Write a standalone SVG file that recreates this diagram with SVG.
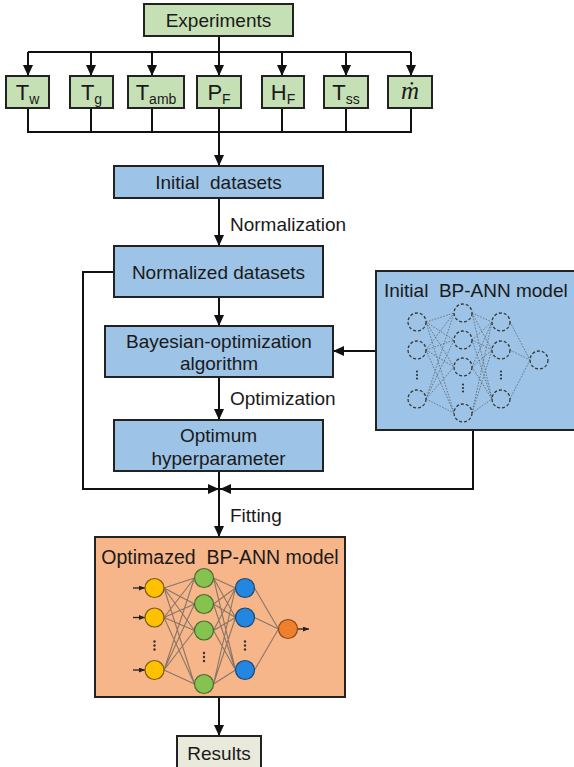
<svg xmlns="http://www.w3.org/2000/svg" width="574" height="767" viewBox="0 0 574 767">
  <defs>
    <marker id="arrow" markerUnits="userSpaceOnUse" markerWidth="11" markerHeight="10" refX="11" refY="5" orient="auto">
      <path d="M0,0 L11,5 L0,10 z" fill="#111"/>
    </marker>
    <marker id="arrow-small" markerUnits="userSpaceOnUse" markerWidth="6" markerHeight="5" refX="6" refY="2.5" orient="auto">
      <path d="M0,0 L6,2.5 L0,5 z" fill="#222"/>
    </marker>
    <style>
      .box { stroke: #222; stroke-width: 2; }
      .green { fill: #C5E0B4; }
      .blue { fill: #9DC3E6; }
      .orange { fill: #F6B68A; }
      .grey { fill: #E9E9DC; }
      .t { font-family: "Liberation Sans", Arial, sans-serif; font-size: 19px; fill: #1a1a1a; white-space: pre; }
      .mid { text-anchor: middle; }
      .sym { font-family: "Liberation Sans", Arial, sans-serif; font-size: 22px; fill: #1a1a1a; text-anchor: middle; }
      .sub { font-size: 14px; }
      .wire { fill: none; stroke: #111; stroke-width: 2; }
      .dash-node { fill: none; stroke: #3a3a3a; stroke-width: 1.3; stroke-dasharray: 3 2; }
      .dot-link { fill: none; stroke: #5d6670; stroke-width: 0.8; stroke-dasharray: 1.6 1.4; }
      .link { fill: none; stroke: #8a7566; stroke-width: 1.1; }
      .io { fill: none; stroke: #222; stroke-width: 1.3; }
      .ell { fill: #333; }
    </style>
  </defs>

  <!-- connectors -->
  <g id="connectors">
    <!-- Experiments fan-out to the seven variables -->
    <path class="wire" d="M219,36 V52 M28,52 H411"/>
    <path class="wire" marker-end="url(#arrow)" d="M28,52 V76"/>
    <path class="wire" marker-end="url(#arrow)" d="M91,52 V76"/>
    <path class="wire" marker-end="url(#arrow)" d="M152,52 V76"/>
    <path class="wire" marker-end="url(#arrow)" d="M219,52 V76"/>
    <path class="wire" marker-end="url(#arrow)" d="M282,52 V76"/>
    <path class="wire" marker-end="url(#arrow)" d="M346,52 V76"/>
    <path class="wire" marker-end="url(#arrow)" d="M411,52 V76"/>
    <!-- variables collected into datasets -->
    <path class="wire" d="M28,108 V132 H411 V108 M91,108 V132 M152,108 V132 M219,108 V132 M282,108 V132 M346,108 V132"/>
    <path class="wire" marker-end="url(#arrow)" d="M219,132 V166"/>
    <path class="wire" marker-end="url(#arrow)" d="M219,198 V246"/>
    <path class="wire" marker-end="url(#arrow)" d="M219,297 V326"/>
    <path class="wire" marker-end="url(#arrow)" d="M376,351 H333"/>
    <path class="wire" marker-end="url(#arrow)" d="M219,377 V420"/>
    <!-- side branches into the fitting junction -->
    <path class="wire" marker-end="url(#arrow)" d="M114,272 H83 V489 H219"/>
    <path class="wire" marker-end="url(#arrow)" d="M473,430 V489 H220"/>
    <path class="wire" marker-end="url(#arrow)" d="M219,471 V537"/>
    <path class="wire" marker-end="url(#arrow)" d="M219,697 V736"/>
    <text class="t" x="230" y="231">Normalization</text>
    <text class="t" x="230" y="405">Optimization</text>
    <text class="t" x="230" y="522">Fitting</text>
  </g>

  <g id="experiments">
    <rect class="box green" x="144" y="4" width="149" height="32"/>
    <text class="t mid" x="218.5" y="27">Experiments</text>
  </g>

  <g id="var-tw">
    <rect class="box green" x="6" y="76" width="43" height="32"/>
    <text class="sym" x="27.5" y="100">T<tspan class="sub" dy="4">w</tspan></text>
  </g>
  <g id="var-tg">
    <rect class="box green" x="70" y="76" width="43" height="32"/>
    <text class="sym" x="91.5" y="100">T<tspan class="sub" dy="4">g</tspan></text>
  </g>
  <g id="var-tamb">
    <rect class="box green" x="128" y="76" width="56" height="32"/>
    <text class="sym" x="156" y="100">T<tspan class="sub" dy="4">amb</tspan></text>
  </g>
  <g id="var-pf">
    <rect class="box green" x="197" y="76" width="44" height="32"/>
    <text class="sym" x="219" y="100">P<tspan class="sub" dy="4">F</tspan></text>
  </g>
  <g id="var-hf">
    <rect class="box green" x="262" y="76" width="42" height="32"/>
    <text class="sym" x="283" y="100">H<tspan class="sub" dy="4">F</tspan></text>
  </g>
  <g id="var-tss">
    <rect class="box green" x="324" y="76" width="44" height="32"/>
    <text class="sym" x="346" y="100">T<tspan class="sub" dy="4">ss</tspan></text>
  </g>
  <g id="var-mdot">
    <rect class="box green" x="388" y="76" width="44" height="32"/>
    <text x="410" y="99" text-anchor="middle" font-family="'Liberation Serif', 'Times New Roman', serif" font-style="italic" font-size="25" fill="#1a1a1a">ṁ</text>
  </g>

  <g id="initial-datasets">
    <rect class="box blue" x="114" y="166" width="209" height="32"/>
    <text class="t mid" x="218.5" y="189" xml:space="preserve">Initial  datasets</text>
  </g>

  <g id="normalized-datasets">
    <rect class="box blue" x="114" y="246" width="209" height="51"/>
    <text class="t mid" x="218.5" y="278.5">Normalized datasets</text>
  </g>

  <g id="bayesian-optimization">
    <rect class="box blue" x="105" y="326" width="228" height="51"/>
    <text class="t mid" x="219" y="347.5">Bayesian-optimization</text>
    <text class="t mid" x="219" y="370">algorithm</text>
  </g>

  <g id="optimum-hyperparameter">
    <rect class="box blue" x="114" y="420" width="209" height="51"/>
    <text class="t mid" x="218.5" y="441.5">Optimum</text>
    <text class="t mid" x="218.5" y="464.5">hyperparameter</text>
  </g>

  <g id="initial-bp-ann">
    <rect class="box blue" x="376" y="271" width="210" height="159"/>
    <text class="t" x="384" y="297" xml:space="preserve">Initial  BP-ANN model</text>
    <path class="dot-link" d="
      M426,322 L454,313 M426,322 L454,340 M426,322 L454,367 M426,322 L454,413
      M426,350 L454,313 M426,350 L454,340 M426,350 L454,367 M426,350 L454,413
      M426,399 L454,313 M426,399 L454,340 M426,399 L454,367 M426,399 L454,413
      M472,313 L492,322 M472,313 L492,350 M472,313 L492,399
      M472,340 L492,322 M472,340 L492,350 M472,340 L492,399
      M472,367 L492,322 M472,367 L492,350 M472,367 L492,399
      M472,413 L492,322 M472,413 L492,350 M472,413 L492,399
      M510,322 L530,360 M510,350 L530,360 M510,399 L530,360"/>
    <circle class="dash-node" cx="417" cy="322" r="9"/>
    <circle class="dash-node" cx="417" cy="350" r="9"/>
    <circle class="dash-node" cx="417" cy="399" r="9"/>
    <circle class="dash-node" cx="463" cy="313" r="9"/>
    <circle class="dash-node" cx="463" cy="340" r="9"/>
    <circle class="dash-node" cx="463" cy="367" r="9"/>
    <circle class="dash-node" cx="463" cy="413" r="9"/>
    <circle class="dash-node" cx="501" cy="322" r="9"/>
    <circle class="dash-node" cx="501" cy="350" r="9"/>
    <circle class="dash-node" cx="501" cy="399" r="9"/>
    <circle class="dash-node" cx="539" cy="360" r="9"/>
    <g class="ell">
      <circle cx="417" cy="371.5" r="1.1"/><circle cx="417" cy="375" r="1.1"/><circle cx="417" cy="378.5" r="1.1"/>
      <circle cx="463" cy="384.5" r="1.1"/><circle cx="463" cy="388" r="1.1"/><circle cx="463" cy="391.5" r="1.1"/>
      <circle cx="501" cy="371.5" r="1.1"/><circle cx="501" cy="375" r="1.1"/><circle cx="501" cy="378.5" r="1.1"/>
    </g>
  </g>

  <g id="optimized-bp-ann">
    <rect class="box orange" x="95" y="537" width="250" height="160"/>
    <text class="t mid" x="220" y="563.5" style="font-size:19.5px" xml:space="preserve">Optimazed  BP-ANN model</text>
    <path class="link" d="
      M164,588 L194.5,578 M164,588 L194.5,604 M164,588 L194.5,630.5 M164,588 L194.5,684
      M164,617.5 L194.5,578 M164,617.5 L194.5,604 M164,617.5 L194.5,630.5 M164,617.5 L194.5,684
      M164,670 L194.5,578 M164,670 L194.5,604 M164,670 L194.5,630.5 M164,670 L194.5,684
      M213.5,578 L235.5,588 M213.5,578 L235.5,617.5 M213.5,578 L235.5,670
      M213.5,604 L235.5,588 M213.5,604 L235.5,617.5 M213.5,604 L235.5,670
      M213.5,630.5 L235.5,588 M213.5,630.5 L235.5,617.5 M213.5,630.5 L235.5,670
      M213.5,684 L235.5,588 M213.5,684 L235.5,617.5 M213.5,684 L235.5,670
      M254.5,588 L278.5,629 M254.5,617.5 L278.5,629 M254.5,670 L278.5,629"/>
    <!-- input and output arrows -->
    <path class="io" marker-end="url(#arrow-small)" d="M133,588 H145"/>
    <path class="io" marker-end="url(#arrow-small)" d="M133,617.5 H145"/>
    <path class="io" marker-end="url(#arrow-small)" d="M133,670 H145"/>
    <path class="io" marker-end="url(#arrow-small)" d="M297.5,629 H309"/>
    <g stroke-width="1.2">
      <circle cx="154.5" cy="588" r="9.5" fill="#FFC000" stroke="#7a5c10"/>
      <circle cx="154.5" cy="617.5" r="9.5" fill="#FFC000" stroke="#7a5c10"/>
      <circle cx="154.5" cy="670" r="9.5" fill="#FFC000" stroke="#7a5c10"/>
      <circle cx="204" cy="578" r="9.5" fill="#86C24F" stroke="#4a6b2c"/>
      <circle cx="204" cy="604" r="9.5" fill="#86C24F" stroke="#4a6b2c"/>
      <circle cx="204" cy="630.5" r="9.5" fill="#86C24F" stroke="#4a6b2c"/>
      <circle cx="204" cy="684" r="9.5" fill="#86C24F" stroke="#4a6b2c"/>
      <circle cx="245" cy="588" r="9.5" fill="#2386E0" stroke="#1d4870"/>
      <circle cx="245" cy="617.5" r="9.5" fill="#2386E0" stroke="#1d4870"/>
      <circle cx="245" cy="670" r="9.5" fill="#2386E0" stroke="#1d4870"/>
      <circle cx="288" cy="629" r="9.5" fill="#F07F2C" stroke="#8a4a1c"/>
    </g>
    <g class="ell">
      <circle cx="154.5" cy="641.5" r="1.2"/><circle cx="154.5" cy="645.5" r="1.2"/><circle cx="154.5" cy="649.5" r="1.2"/>
      <circle cx="204" cy="653" r="1.2"/><circle cx="204" cy="657" r="1.2"/><circle cx="204" cy="661" r="1.2"/>
      <circle cx="245" cy="641.5" r="1.2"/><circle cx="245" cy="645.5" r="1.2"/><circle cx="245" cy="649.5" r="1.2"/>
    </g>
  </g>

  <g id="results">
    <rect class="box grey" x="177" y="736" width="84" height="40"/>
    <text class="t mid" x="219" y="759.5">Results</text>
  </g>
</svg>
